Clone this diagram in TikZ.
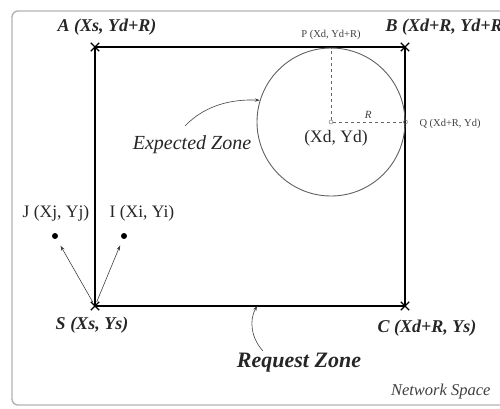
\documentclass[tikz,border=0pt]{standalone}
\usepackage{fontspec}
\setmainfont{Liberation Serif}
\usetikzlibrary{arrows.meta, positioning, calc, shapes.misc}

\begin{document}
\begin{tikzpicture}[x=1pt, y=-1pt,
    corner/.style={draw, cross out, minimum size=7pt, inner sep=0pt, line width=1.3pt},
    ptlbl/.style={font=\fontsize{18}{20}\selectfont\bfseries\itshape, text=black!85},
    crdlbl/.style={font=\fontsize{17.5}{20}\selectfont, text=black!85},
    tinylbl/.style={font=\fontsize{10.5}{12}\selectfont, text=black!75},
    dot/.style={circle, fill, minimum size=6pt, inner sep=0pt},
    ring/.style={circle, draw, gray!80!black, minimum size=4pt, inner sep=0pt},
    guide/.style={dashed, gray!80!black, line width=0.6pt},
    pointer/.style={-{Stealth[length=5pt, width=3.5pt]}, black!75, line width=0.6pt}
  ]
  \useasboundingbox (0,0) rectangle (500,408);
  % network space
  \draw[gray!60, line width=1.4pt, rounded corners=6pt] (12,11) rectangle (530,405);
  \node[font=\fontsize{16.5}{18}\selectfont\itshape, text=black!75, anchor=east] (net) at (494,392) {Network Space};

  % request zone
  \node[corner] (A) at (95,47) {};
  \node[corner] (B) at (405,47) {};
  \node[corner] (C) at (405,306) {};
  \node[corner] (S) at (95,306) {};
  \draw[line width=2pt] (A.center) -- (B.center) -- (C.center) -- (S.center) -- cycle;
  \node[ptlbl] (alb) at (107,27) {A (Xs, Yd+R)};
  \node[ptlbl, anchor=west] (blb) at (382,27) {B (Xd+R, Yd+R)};
  \node[ptlbl] (slb) at (92,325) {S (Xs, Ys)};
  \node[ptlbl] (clb) at (427,328) {C (Xd+R, Ys)};
  \node[font=\fontsize{22}{24}\selectfont\bfseries\itshape, text=black!85] (req) at (299,363) {Request Zone};
  \coordinate (reqStart) at (263,351);
  \coordinate (reqEnd) at ($(S.center)!0.523!(C.center)$);
  \draw[pointer] (reqStart) .. controls (251,338) and (249,320) .. (reqEnd);

  % expected zone
  \node[circle, draw, gray!75!black, line width=0.9pt, minimum size=148pt, inner sep=0pt] (zone) at (331,122) {};
  \node[ring] (ctr) at (zone.center) {};
  \node[ring] (Q) at (zone.east) {};
  \coordinate (P) at (zone.north);
  \draw[guide] (ctr) -- (P);
  \draw[guide] (ctr) -- (Q) node[midway, above, font=\fontsize{11}{12}\selectfont\itshape, text=black!75] {R};
  \node[tinylbl] (plb) at (331,35) {P (Xd, Yd+R)};
  \node[tinylbl, anchor=west] (qlb) at (416,124) {Q (Xd+R, Yd)};
  \node[crdlbl] (dlb) at (336,138) {(Xd, Yd)};
  \node[font=\fontsize{20}{22}\selectfont\itshape, text=black!85] (exp) at (192,145) {Expected Zone};
  \coordinate (expStart) at (185,126);
  \draw[pointer] (expStart) .. controls (205,105) and (232,99) .. (zone.163);

  % neighbours
  \node[dot] (j) at (55,236) {};
  \node[dot] (i) at (124,236) {};
  \node[crdlbl] (jlb) at (56,213) {J (Xj, Yj)};
  \node[crdlbl] (ilb) at (142,213) {I (Xi, Yi)};
  \draw[pointer, shorten >=8pt] (S) -- (j);
  \draw[pointer, shorten >=7pt] (S) -- (i);
\end{tikzpicture}
\end{document}
